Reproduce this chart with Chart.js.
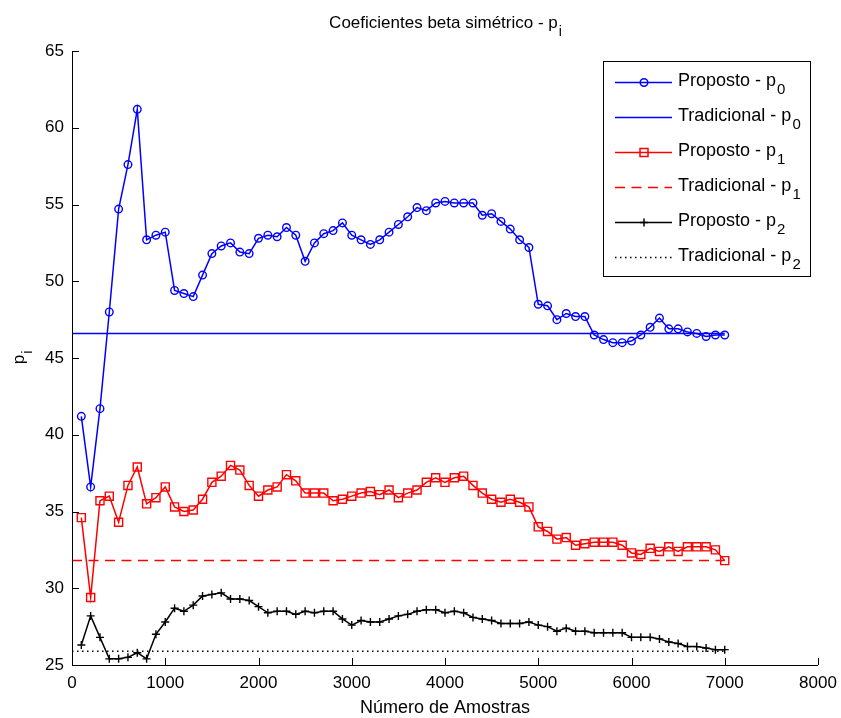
<!DOCTYPE html>
<html>
<head>
<meta charset="utf-8">
<script src="https://cdn.jsdelivr.net/npm/chart.js@4"></script>
<style>
  body { margin: 0; background: #fff; }
  #wrap { width: 841px; height: 718px; }
</style>
</head>
<body>
<div id="wrap"><canvas id="grafico" width="841" height="718"></canvas></div>
<script>
// amostras (eixo x)
const amostras = [100, 200, 300, 400, 500, 600, 700, 800, 900, 1000,
  1100, 1200, 1300, 1400, 1500, 1600, 1700, 1800, 1900, 2000,
  2100, 2200, 2300, 2400, 2500, 2600, 2700, 2800, 2900, 3000,
  3100, 3200, 3300, 3400, 3500, 3600, 3700, 3800, 3900, 4000,
  4100, 4200, 4300, 4400, 4500, 4600, 4700, 4800, 4900, 5000,
  5100, 5200, 5300, 5400, 5500, 5600, 5700, 5800, 5900, 6000,
  6100, 6200, 6300, 6400, 6500, 6600, 6700, 6800, 6900, 7000];

const propostoP0 = [41.2, 36.6, 41.7, 48.0, 54.7, 57.6, 61.2, 52.7, 53.0, 53.2,
  49.4, 49.2, 49.0, 50.4, 51.8, 52.3, 52.5, 51.9, 51.8, 52.8,
  53.0, 52.9, 53.5, 53.0, 51.3, 52.5, 53.1, 53.3, 53.8, 53.0,
  52.7, 52.4, 52.7, 53.2, 53.7, 54.2, 54.8, 54.6, 55.1, 55.2,
  55.1, 55.1, 55.1, 54.3, 54.4, 53.9, 53.4, 52.7, 52.2, 48.5,
  48.4, 47.5, 47.9, 47.7, 47.7, 46.5, 46.2, 46.0, 46.0, 46.1,
  46.5, 47.0, 47.6, 46.9, 46.9, 46.7, 46.6, 46.4, 46.5, 46.5];

const propostoP1 = [34.6, 29.4, 35.7, 36.0, 34.3, 36.7, 37.9, 35.5, 35.9, 36.6,
  35.3, 35.0, 35.1, 35.8, 36.9, 37.3, 38.0, 37.7, 36.7, 36.0,
  36.4, 36.6, 37.4, 37.0, 36.2, 36.2, 36.2, 35.7, 35.8, 36.0,
  36.2, 36.3, 36.1, 36.4, 35.9, 36.2, 36.4, 36.9, 37.2, 36.9,
  37.2, 37.3, 36.7, 36.2, 35.8, 35.6, 35.8, 35.6, 35.3, 34.0,
  33.7, 33.2, 33.3, 32.8, 32.9, 33.0, 33.0, 33.0, 32.8, 32.3,
  32.2, 32.6, 32.4, 32.7, 32.4, 32.7, 32.7, 32.7, 32.5, 31.8];

const propostoP2 = [26.3, 28.2, 26.8, 25.4, 25.4, 25.5, 25.8, 25.4, 27.0, 27.8,
  28.7, 28.5, 28.9, 29.5, 29.6, 29.7, 29.3, 29.3, 29.2, 28.8,
  28.4, 28.5, 28.5, 28.3, 28.5, 28.4, 28.5, 28.5, 28.0, 27.6,
  27.9, 27.8, 27.8, 28.0, 28.2, 28.3, 28.5, 28.6, 28.6, 28.4,
  28.5, 28.4, 28.1, 28.0, 27.9, 27.7, 27.7, 27.7, 27.8, 27.6,
  27.5, 27.2, 27.4, 27.2, 27.2, 27.1, 27.1, 27.1, 27.1, 26.8,
  26.8, 26.8, 26.7, 26.5, 26.4, 26.2, 26.2, 26.1, 26.0, 26.0];

// valores tradicionais (constantes)
const tradX = [0, 7000];
const tradicionalP0 = 46.6;
const tradicionalP1 = 31.8;
const tradicionalP2 = 25.9;

const xTicks = [0, 1000, 2000, 3000, 4000, 5000, 6000, 7000, 8000];
const yTicks = [25, 30, 35, 40, 45, 50, 55, 60, 65];

const FONTE = '"Liberation Sans", Arial, sans-serif';
const AZUL = '#0000ff', VERMELHO = '#ff0000', PRETO = '#000000';
const TRACO = [10, 6.5], PONTO = [1.5, 3.5];

const pares = (xs, ys) => xs.map((x, i) => ({ x: x, y: ys[i] }));
const constante = (v) => tradX.map((x) => ({ x: x, y: v }));

// texto com subíndice (p_0, p_i ...)
function textoSub(ctx, txt, sub, x, y, size, align) {
  ctx.font = size + 'px ' + FONTE;
  const w1 = ctx.measureText(txt).width;
  ctx.font = Math.round(size * 0.85) + 'px ' + FONTE;
  const w2 = ctx.measureText(sub).width;
  let x0 = x;
  if (align === 'center') x0 = x - (w1 + w2) / 2;
  ctx.textAlign = 'left';
  ctx.textBaseline = 'alphabetic';
  ctx.font = size + 'px ' + FONTE;
  ctx.fillText(txt, x0, y);
  ctx.font = Math.round(size * 0.85) + 'px ' + FONTE;
  ctx.fillText(sub, x0 + w1 + 1, y + 7.5);
}

function marcador(ctx, tipo, x, y) {
  ctx.beginPath();
  if (tipo === 'circle') {
    ctx.arc(x, y, 3.8, 0, Math.PI * 2);
  } else if (tipo === 'rect') {
    ctx.rect(x - 4, y - 4, 8, 8);
  } else if (tipo === 'cross') {
    ctx.moveTo(x - 4, y); ctx.lineTo(x + 4, y);
    ctx.moveTo(x, y - 4); ctx.lineTo(x, y + 4);
  }
  ctx.stroke();
}

const itensLegenda = [
  { txt: 'Proposto - p', sub: '0', cor: AZUL, dash: [], marca: 'circle' },
  { txt: 'Tradicional - p', sub: '0', cor: AZUL, dash: [], marca: null },
  { txt: 'Proposto - p', sub: '1', cor: VERMELHO, dash: [], marca: 'rect' },
  { txt: 'Tradicional - p', sub: '1', cor: VERMELHO, dash: TRACO, marca: null },
  { txt: 'Proposto - p', sub: '2', cor: PRETO, dash: [], marca: 'cross' },
  { txt: 'Tradicional - p', sub: '2', cor: PRETO, dash: PONTO, marca: null },
];

const estiloMatlab = {
  id: 'estiloMatlab',
  afterDraw(chart) {
    const ctx = chart.ctx;
    const a = chart.chartArea;
    const sx = chart.scales.x, sy = chart.scales.y;
    ctx.save();
    ctx.strokeStyle = PRETO;
    ctx.fillStyle = PRETO;
    ctx.lineWidth = 1;
    // eixos
    ctx.beginPath();
    ctx.moveTo(a.left + 0.5, a.top);
    ctx.lineTo(a.left + 0.5, a.bottom + 0.5);
    ctx.lineTo(a.right, a.bottom + 0.5);
    ctx.stroke();
    // marcas para dentro
    ctx.beginPath();
    xTicks.forEach((v) => {
      const px = Math.round(sx.getPixelForValue(v)) + 0.5;
      ctx.moveTo(px, a.bottom); ctx.lineTo(px, a.bottom - 7);
    });
    yTicks.forEach((v) => {
      const py = Math.round(sy.getPixelForValue(v)) + 0.5;
      ctx.moveTo(a.left, py); ctx.lineTo(a.left + 7, py);
    });
    ctx.stroke();

    // título e rótulos
    const cx = (a.left + a.right) / 2;
    textoSub(ctx, 'Coeficientes beta simétrico - p', 'i', cx, 28, 17, 'center');
    ctx.font = '18px ' + FONTE;
    ctx.textAlign = 'center';
    ctx.textBaseline = 'alphabetic';
    ctx.fillText('Número de Amostras', cx, 713);
    ctx.save();
    ctx.translate(24, (a.top + a.bottom) / 2);
    ctx.rotate(-Math.PI / 2);
    textoSub(ctx, 'p', 'i', 0, 0, 17, 'center');
    ctx.restore();

    // legenda
    const bx = 603.5, by = 61.5, bw = 207, bh = 215;
    ctx.fillStyle = '#fff';
    ctx.fillRect(bx, by, bw, bh);
    ctx.strokeStyle = PRETO;
    ctx.lineWidth = 1;
    ctx.strokeRect(bx, by, bw, bh);
    itensLegenda.forEach((it, k) => {
      const ly = Math.round(82 + k * 34.9) + 0.5;
      ctx.strokeStyle = it.cor;
      ctx.lineWidth = 1.5;
      ctx.setLineDash(it.dash);
      ctx.beginPath();
      ctx.moveTo(615, ly); ctx.lineTo(672, ly);
      ctx.stroke();
      ctx.setLineDash([]);
      if (it.marca) marcador(ctx, it.marca, 644, ly);
      ctx.fillStyle = PRETO;
      textoSub(ctx, it.txt, it.sub, 678, ly + 3.5, 18, 'left');
    });
    ctx.restore();
  },
};

const linhaProposto = (rotulo, ys, cor, estilo, raio) => ({
  label: rotulo,
  data: pares(amostras, ys),
  borderColor: cor,
  borderWidth: 1.5,
  pointStyle: estilo,
  pointRadius: raio,
  pointBorderColor: cor,
  pointBackgroundColor: 'rgba(0,0,0,0)',
  pointBorderWidth: 1.4,
  tension: 0,
  fill: false,
});

const linhaTradicional = (rotulo, v, cor, dash) => ({
  label: rotulo,
  data: constante(v),
  borderColor: cor,
  borderWidth: 1.5,
  borderDash: dash,
  pointRadius: 0,
  tension: 0,
  fill: false,
});

new Chart(document.getElementById('grafico'), {
  type: 'line',
  data: {
    datasets: [
      linhaProposto('Proposto - p0', propostoP0, AZUL, 'circle', 3.8),
      linhaTradicional('Tradicional - p0', tradicionalP0, AZUL, []),
      linhaProposto('Proposto - p1', propostoP1, VERMELHO, 'rect', 5.7),
      linhaTradicional('Tradicional - p1', tradicionalP1, VERMELHO, TRACO),
      linhaProposto('Proposto - p2', propostoP2, PRETO, 'cross', 4),
      linhaTradicional('Tradicional - p2', tradicionalP2, PRETO, PONTO),
    ],
  },
  options: {
    responsive: false,
    animation: false,
    events: [],
    layout: { padding: { left: 0, right: 23, top: 51, bottom: 0 } },
    plugins: { legend: { display: false }, title: { display: false }, tooltip: { enabled: false } },
    scales: {
      x: {
        type: 'linear',
        min: 0,
        max: 8000,
        afterFit: (s) => { s.height = 53; s.paddingLeft = 0; s.paddingRight = 0; },
        afterBuildTicks: (s) => { s.ticks = xTicks.map((v) => ({ value: v })); },
        grid: { display: false, drawTicks: false, tickLength: 0 },
        border: { display: false },
        ticks: {
          color: PRETO, padding: 8, maxRotation: 0,
          font: { family: FONTE, size: 17 },
          callback: (v) => String(v),
        },
      },
      y: {
        min: 25,
        max: 65,
        afterFit: (s) => { s.width = 72; s.paddingTop = 0; s.paddingBottom = 0; },
        afterBuildTicks: (s) => { s.ticks = yTicks.map((v) => ({ value: v })); },
        grid: { display: false, drawTicks: false, tickLength: 0 },
        border: { display: false },
        ticks: {
          color: PRETO, padding: 8,
          font: { family: FONTE, size: 17 },
          callback: (v) => String(v),
        },
      },
    },
  },
  plugins: [estiloMatlab],
});
</script>
</body>
</html>
